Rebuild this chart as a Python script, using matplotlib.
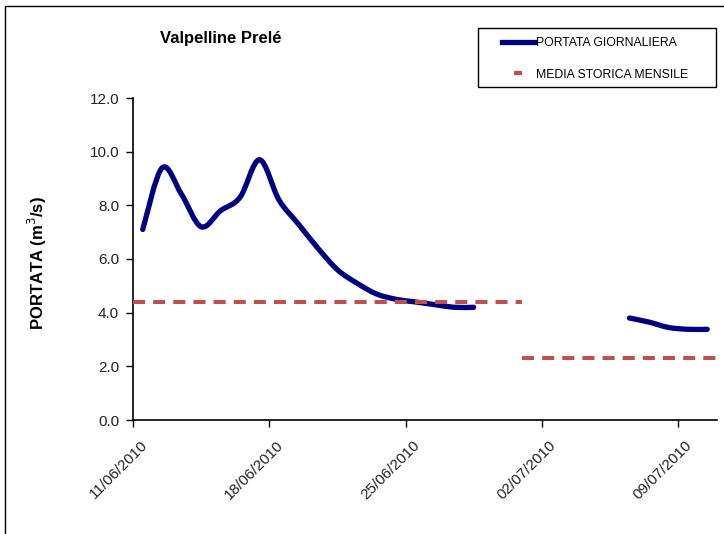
import numpy as np
import matplotlib
matplotlib.use('Agg')
import matplotlib.pyplot as plt
import matplotlib.dates as mdates
import matplotlib.transforms as mtrans
from matplotlib.path import Path
from matplotlib.patches import PathPatch, Rectangle
from matplotlib.lines import Line2D

plt.rcParams['font.family'] = ['Liberation Sans', 'DejaVu Sans']

# Dati giornalieri (11/06/2010 - 10/07/2010), NaN = dato mancante
giorni = np.arange('2010-06-11', '2010-07-11', dtype='datetime64[D]')
portata = [7.1, 9.4, 8.4, 7.2, 7.8, 8.3, 9.7, 8.2, 7.3, 6.4,
           5.6, 5.1, 4.7, 4.5, 4.4, 4.3, 4.2, 4.2,
           np.nan, np.nan, np.nan, np.nan, np.nan, np.nan, np.nan,
           3.8, 3.65, 3.45, 3.38, 3.38]

# Media storica mensile (giugno, luglio)
media_inizio = ['2010-06-11', '2010-07-01']
media_fine = ['2010-07-01', '2010-07-11']
media_valori = [4.4, 2.3]

tick_date = ['2010-06-11', '2010-06-18', '2010-06-25', '2010-07-02', '2010-07-09']

BLU = '#000080'
ROSSO = '#C0504D'


def curva_liscia(x, y):
    # bezier come la linea smussata di Excel
    verts = [(x[0], y[0])]
    codes = [Path.MOVETO]
    n = len(x)
    for i in range(n - 1):
        a = i - 1 if i > 0 else i
        b = i + 2 if i + 2 < n else i + 1
        c1 = (x[i] + (x[i+1] - x[a]) / 6, y[i] + (y[i+1] - y[a]) / 6)
        c2 = (x[i+1] - (x[b] - x[i]) / 6, y[i+1] - (y[b] - y[i]) / 6)
        verts += [c1, c2, (x[i+1], y[i+1])]
        codes += [Path.CURVE4] * 3
    return Path(verts, codes)


fig = plt.figure(figsize=(7.24, 5.34), dpi=100)
ax = fig.add_axes([133/724, 1 - 420/534, (717-133)/724, (420-98)/534])

# Portata giornaliera, tratti continui
xg = mdates.date2num(giorni.astype('datetime64[s]').astype(object)) + 0.5
yg = np.array(portata, dtype=float)
idx = np.where(~np.isnan(yg))[0]
tratti = np.split(idx, np.where(np.diff(idx) > 1)[0] + 1)
for t in tratti:
    p = curva_liscia(xg[t], yg[t])
    ax.add_patch(PathPatch(p, fill=False, edgecolor=BLU, lw=3.8,
                           capstyle='round', joinstyle='round', zorder=3))

# Media storica mensile
x0 = mdates.datestr2num(media_inizio)
x1 = mdates.datestr2num(media_fine)
ax.hlines(media_valori, x0, x1, colors=ROSSO, linestyles=(0, (3, 2)), lw=2.9, zorder=4)

ax.set_xlim(xg[0] - 0.5, xg[-1] + 0.5)
ax.set_ylim(0, 12)
ax.set_yticks(np.arange(0, 12.1, 2))
ax.yaxis.set_major_formatter(matplotlib.ticker.FormatStrFormatter('%.1f'))
ax.set_xticks(mdates.datestr2num(tick_date))
ax.xaxis.set_major_formatter(mdates.DateFormatter('%d/%m/%Y'))

for s in ['top', 'right']:
    ax.spines[s].set_visible(False)
for s in ['left', 'bottom']:
    ax.spines[s].set_linewidth(1.2)
ax.tick_params(direction='out', length=5, width=1, labelsize=11, colors='black',
               labelcolor='#222222')
ax.tick_params(axis='y', pad=5)
ax.tick_params(axis='x', pad=3)

sposta = mtrans.ScaledTranslation(0.07, -0.07, fig.dpi_scale_trans)
for lab in ax.get_xticklabels():
    lab.set_rotation(45)
    lab.set_ha('right')
    lab.set_rotation_mode('anchor')
    lab.set_transform(lab.get_transform() + sposta)

fig.text(221/724, 1 - 38/534, 'Valpelline Prelé', fontsize=12, fontweight='bold',
         ha='center', va='center')
fig.text(37/724, 1 - 263/534, 'PORTATA (m$^3$/s)', fontsize=12, fontweight='bold',
         rotation=90, ha='center', va='center')

# Legenda
h1 = Line2D([], [], color=BLU, lw=3.8)
h2 = Line2D([], [], color=ROSSO, marker='_', markersize=6, mew=3, ls='none')
leg = fig.legend([h1, h2], ['PORTATA GIORNALIERA', 'MEDIA STORICA MENSILE'],
                 loc='upper left', bbox_to_anchor=(502/724, 1 - 37/534),
                 borderaxespad=0, fontsize=8.8, handlelength=2.6, handletextpad=0.15,
                 labelspacing=1.6, borderpad=0, frameon=False)

# riquadro legenda e cornice esterna
fig.patches.append(Rectangle((478/724, 1 - 87/534), (716-478)/724, (87-28)/534,
                             transform=fig.transFigure, fill=False, edgecolor='black',
                             lw=1.0, figure=fig))
fig.patches.append(Rectangle((5/724, -0.1), 1.2, 1.1 - 6/534, transform=fig.transFigure,
                             fill=False, edgecolor='black', lw=1.0, figure=fig))

fig.savefig('out.png', dpi=100)
